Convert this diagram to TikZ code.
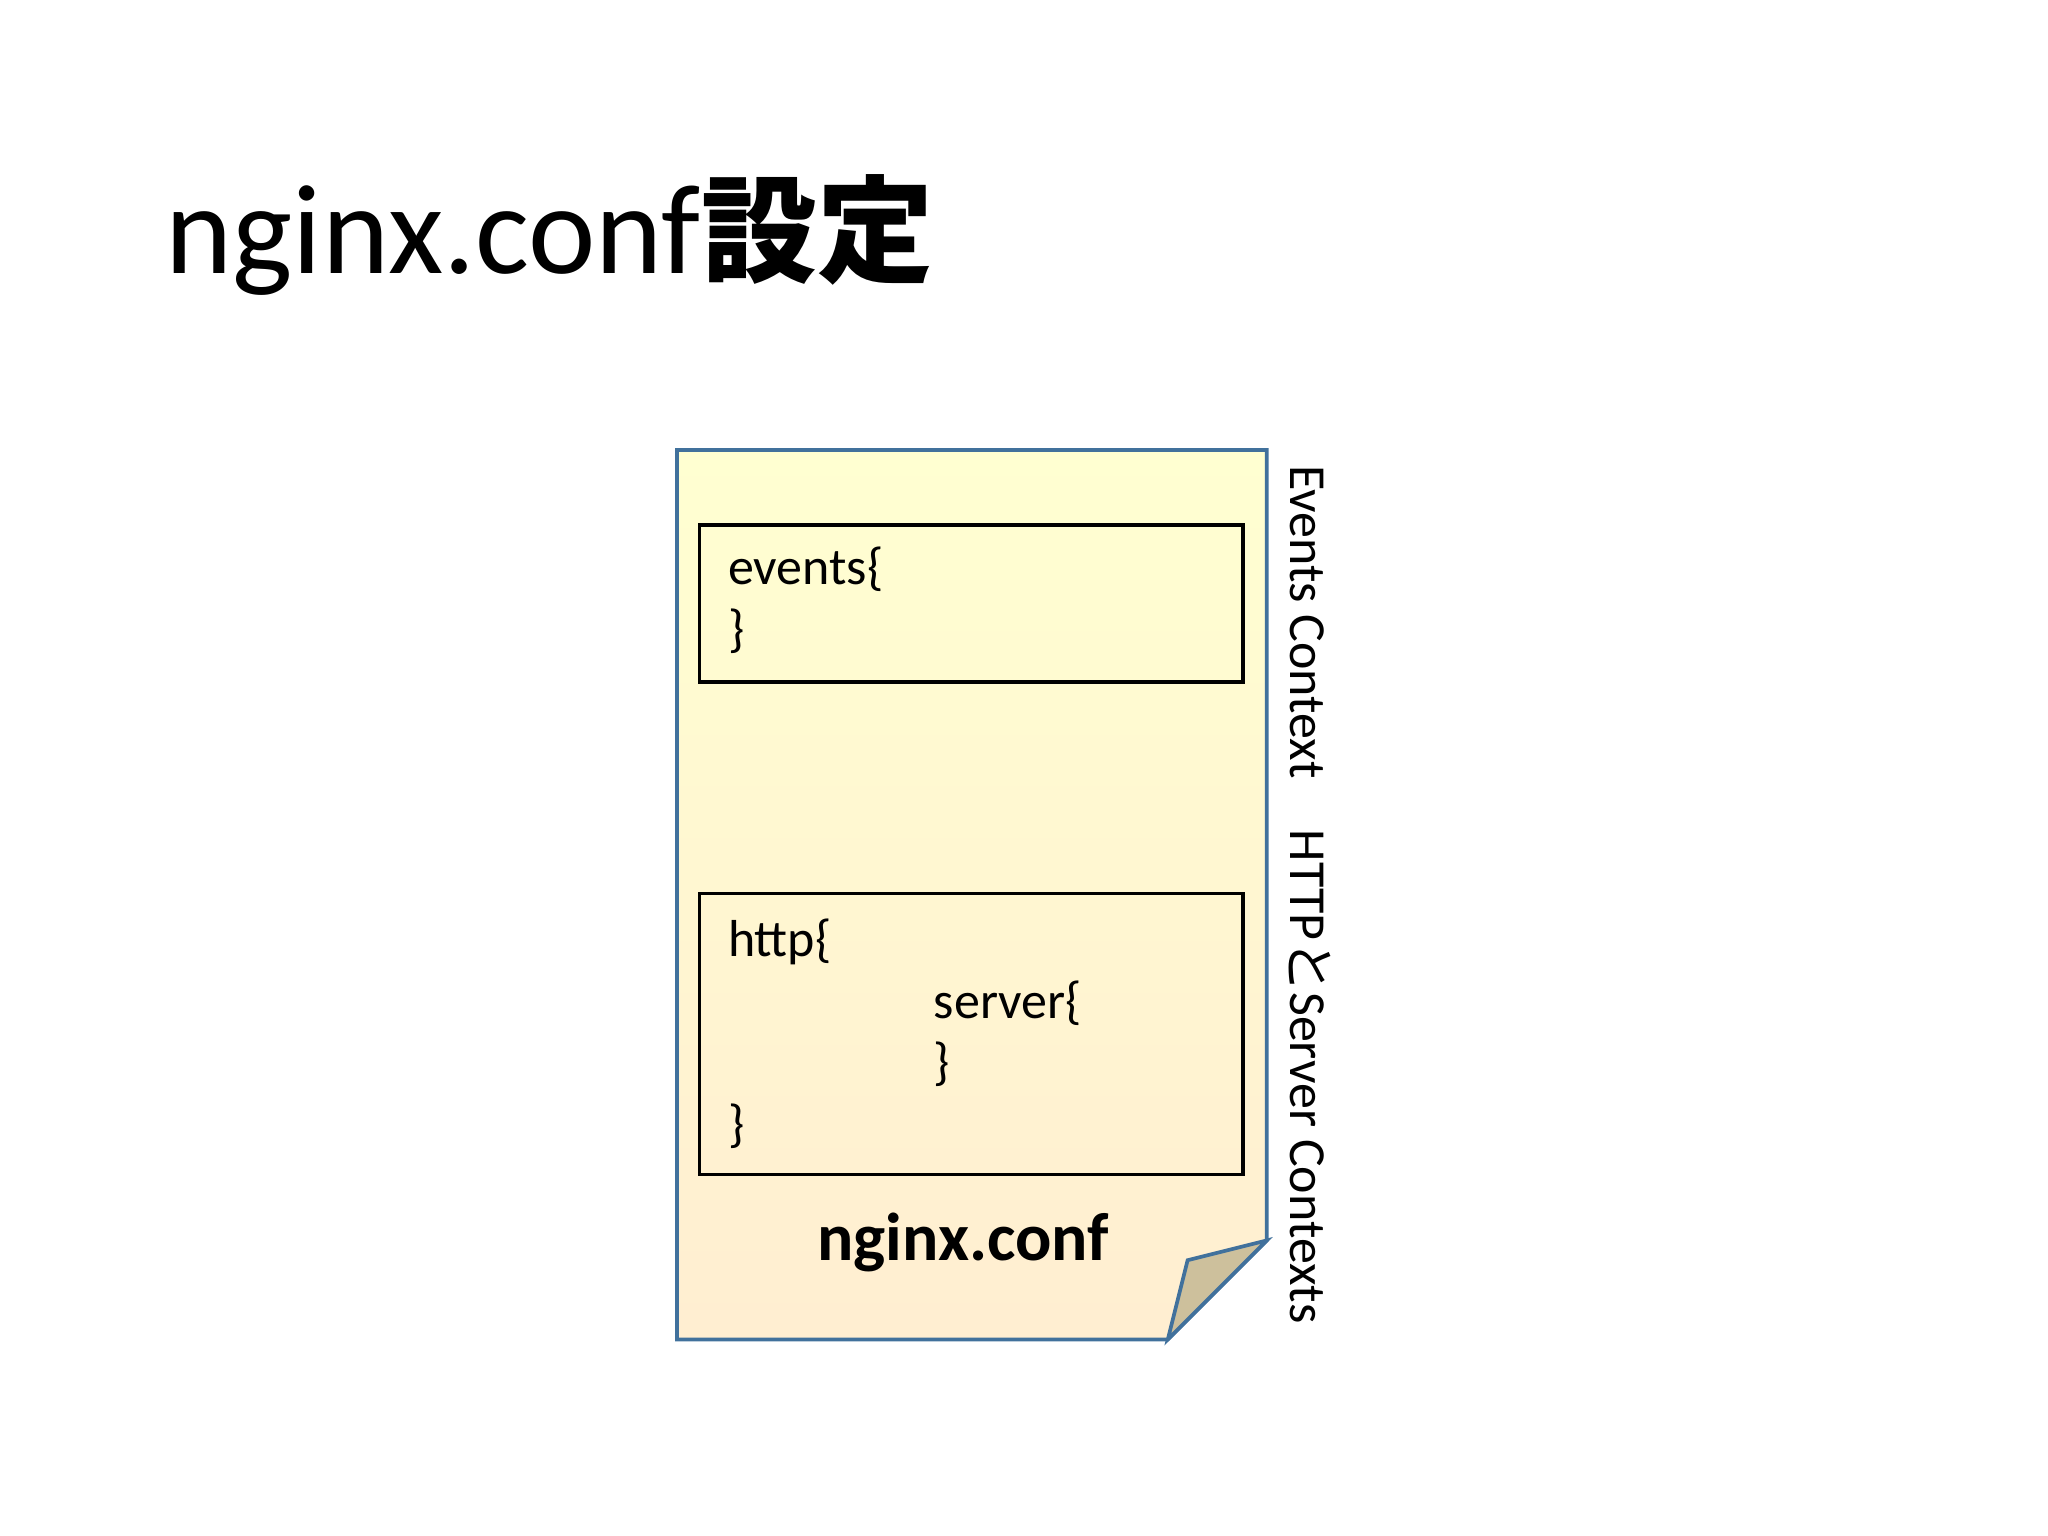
\documentclass[tikz,border=0pt]{standalone}
\usepackage{fontspec}
\setmainfont{Carlito}
\newfontfamily\cjk{Noto Sans CJK JP}
\definecolor{bord}{RGB}{65,113,156}
\definecolor{foldc}{RGB}{205,192,156}
\begin{document}
\begin{tikzpicture}[x=0.01cm,y=-0.01cm,
  txt/.style={inner sep=0pt,anchor=base west,font=\fontsize{11.2}{14}\selectfont},
  box/.style={draw=black,line width=0.8pt}]
\useasboundingbox (0,0) rectangle (1552,1164);
\shade[top color=yellow!18,bottom color=yellow!25!orange!18, draw=bord, line width=0.8pt]
  (513,341) -- (960,341) -- (960,940) -- (885,1015) -- (513,1015) -- cycle;
\filldraw[fill=foldc, draw=bord, line width=0.8pt]
  (885,1015) -- (900,955) -- (960,940) -- cycle;
\node[txt,font=\fontsize{27.5}{32}\selectfont] (title) at (125,207) {nginx.conf{\cjk\fontsize{25}{30}\selectfont\bfseries 設定}};
\draw[box] (530,398) rectangle (942,517);
\draw[box] (530,677) rectangle (942,890);
\node[txt] (e1) at (551,443) {events\{};
\node[txt] (e2) at (551,490) {\}};
\node[txt] (h1) at (551,725) {http\{};
\node[txt] (h2) at (707,772) {server\{};
\node[txt] (h3) at (707,818) {\}};
\node[txt] (h4) at (551,865) {\}};
\node[txt,anchor=base,font=\fontsize{14.6}{18}\selectfont\bfseries] (nc) at (730,955) {nginx.conf};
\node[txt,rotate=-90] (r1) at (978,352) {Events Context};
\node[txt,rotate=-90] (r2) at (978,628) {HTTP{\cjk と}Server Contexts};
\end{tikzpicture}
\end{document}
